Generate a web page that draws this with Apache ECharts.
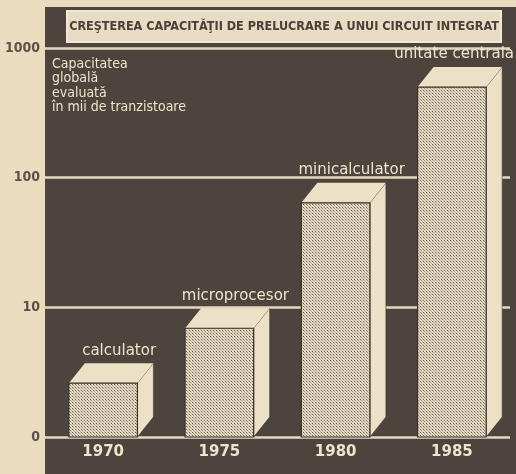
<!DOCTYPE html>
<html><head><meta charset="utf-8">
<script src="https://cdn.jsdelivr.net/npm/echarts@6/dist/echarts.min.js"></script>
<style>html,body{margin:0;padding:0;background:#eadcbf}#c{width:516px;height:474px}</style>
</head><body><div id="c"></div>
<script>
const titleText = 'CREŞTEREA CAPACITĂŢII DE PRELUCRARE A UNUI CIRCUIT INTEGRAT';
const noteLines = ['Capacitatea', 'globală', 'evaluată', 'în mii de tranzistoare'];
const years = ['1970', '1975', '1980', '1985'];
const deviceNames = ['calculator', 'microprocesor', 'minicalculator', 'unitate centrala'];
const capacity = [2.6, 6.9, 64, 500];
const yTicks = [1, 10, 100, 1000];
const yTickLabels = ['0', '10', '100', '1000'];

const BG = '#eadcbf', DARK = '#4c443d', CREAM = '#ece0c6';
// dot pattern for the front faces
const pc = document.createElement('canvas');
pc.width = 3; pc.height = 3;
const px = pc.getContext('2d');
px.fillStyle = '#e2d7bf'; px.fillRect(0, 0, 3, 3);
px.fillStyle = '#6f6659'; px.fillRect(0, 0, 1, 1);
px.fillStyle = '#9c927f'; px.fillRect(1, 1, 1, 1);
px.fillStyle = '#c2b8a3'; px.fillRect(2, 2, 1, 1);
const dotFill = { image: pc, repeat: 'repeat' };

const mc = document.createElement('canvas').getContext('2d');
const labelFont = '15px "DejaVu Sans"';

const chart = echarts.init(document.getElementById('c'), null, { renderer: 'canvas' });
const DX = 16, DY = 20;
chart.setOption({
  backgroundColor: BG,
  animation: false,
  grid: { left: 45, right: 6, top: 48, bottom: 37 },
  graphic: [
    { type: 'rect', z: -10, shape: { x: 45, y: 7, width: 471, height: 467 }, style: { fill: DARK } },
    { type: 'rect', z: 10, shape: { x: 67, y: 11, width: 434, height: 31 }, style: { fill: '#e8dcc4', stroke: '#f2e8d3', lineWidth: 2 } },
    { type: 'text', z: 11, x: 284, y: 27, style: { text: titleText, fill: '#4a4038', font: 'bold 12.5px "DejaVu Sans Condensed"', align: 'center', verticalAlign: 'middle' } },
    { type: 'text', z: 11, x: 52, y: 57, style: { text: noteLines.join('\n'), fill: '#efe4cc', font: '14px "DejaVu Sans Condensed"', lineHeight: 14.5, align: 'left', verticalAlign: 'top' } }
  ],
  xAxis: {
    type: 'category', data: years,
    axisLine: { show: false }, axisTick: { show: false },
    axisLabel: { color: '#efe4cc', fontSize: 15, fontWeight: 'bold', fontFamily: 'DejaVu Sans', margin: 8 }
  },
  yAxis: {
    type: 'log', logBase: 10, min: 1, max: 1000,
    axisLine: { show: false }, axisTick: { show: false },
    axisLabel: {
      color: '#5a5148', fontSize: 14, fontWeight: 'bold', fontFamily: 'DejaVu Sans Condensed', margin: 5,
      formatter: v => { const i = yTicks.indexOf(Math.round(v)); return i >= 0 ? yTickLabels[i] : ''; }
    },
    splitLine: { show: true, lineStyle: { color: '#e4d8bf', width: 2.5 } }
  },
  series: [{
    type: 'custom',
    data: capacity.map((v, i) => [i, v]),
    renderItem: (params, api) => {
      const idx = api.value(0), v = api.value(1);
      const top = api.coord([idx, v]);
      const base = api.coord([idx, 1]);
      const band = api.size([1, 0])[0];
      const w = band * 0.59;
      const L = top[0] - w / 2, R = top[0] + w / 2, T = top[1], B = base[1];
      const name = deviceNames[params.dataIndex];
      mc.font = labelFont;
      const tw = mc.measureText(name).width;
      let cx = top[0] + DX / 2 + 8;
      const maxR = params.coordSys.x + params.coordSys.width + 4;
      if (cx + tw / 2 > maxR) cx = maxR - tw / 2;
      return {
        type: 'group',
        children: [
          { type: 'polygon', shape: { points: [[R, T], [R + DX, T - DY], [R + DX, B - DY], [R, B]] }, style: { fill: CREAM, stroke: '#3e362f', lineWidth: 0.6 } },
          { type: 'polygon', shape: { points: [[L, T], [L + DX, T - DY], [R + DX, T - DY], [R, T]] }, style: { fill: CREAM } },
          { type: 'rect', shape: { x: L, y: T, width: w, height: B - T }, style: { fill: dotFill, stroke: '#3a322c', lineWidth: 1.2 } },
          { type: 'text', x: cx, y: T - DY - 5, style: { text: name, fill: '#efe4cc', font: labelFont, align: 'center', verticalAlign: 'bottom' } }
        ]
      };
    }
  }]
});
</script></body></html>
